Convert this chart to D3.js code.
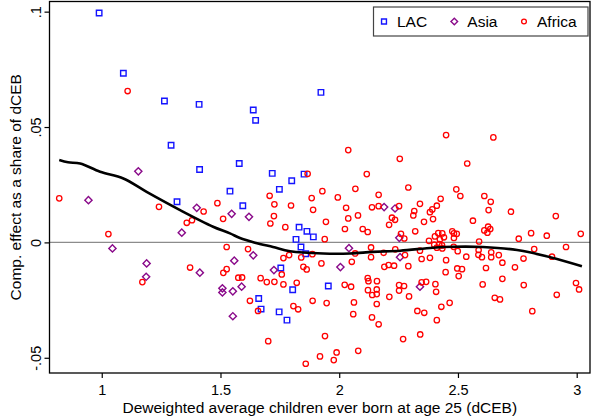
<!DOCTYPE html>
<html>
<head>
<meta charset="utf-8">
<script src="https://cdn.jsdelivr.net/npm/d3@7"></script>
<style>
  body { margin: 0; background: #fff; }
  text { font-family: "Liberation Sans", Arial, Helvetica, sans-serif; fill: #000; }
</style>
</head>
<body>
<svg id="chart" width="592" height="420"></svg>
<script>
// LAC countries: [dCEB, composition effect share]
var lac = [
  [0.989, 0.0994], [1.091, 0.0733], [1.264, 0.0613], [1.410, 0.0598], [1.292, 0.0421],
  [1.638, 0.0574], [1.648, 0.0529], [1.923, 0.0650], [1.412, 0.0316], [1.579, 0.0342],
  [1.317, 0.0176], [1.540, 0.0222], [1.594, 0.0159], [1.718, 0.0299], [1.748, 0.0230],
  [1.800, 0.0267], [1.852, 0.0296], [1.831, 0.0066], [1.864, 0.0048], [1.891, 0.0024],
  [1.818, 0.0013], [1.839, -0.0020], [1.859, -0.0049], [1.754, -0.0111], [1.804, -0.0205],
  [1.954, -0.0189], [1.661, -0.0243], [1.671, -0.0289], [1.747, -0.0301], [1.780, -0.0337]
];

var asia = [
  [0.944, 0.0183], [1.154, 0.0308], [1.045, -0.0026], [1.189, -0.0091], [1.187, -0.0149],
  [1.337, 0.0042], [1.400, 0.0150], [1.413, -0.0131], [1.547, 0.0124], [1.620, 0.0111],
  [1.558, -0.0079], [1.638, -0.0056], [1.508, -0.0199], [1.508, -0.0217], [1.552, -0.0212],
  [1.589, -0.0192], [1.552, -0.0320], [1.725, -0.0120], [2.005, -0.0107], [2.041, -0.0025],
  [2.189, 0.0153], [2.235, 0.0147], [2.253, 0.0020], [2.256, -0.0064], [2.340, -0.0192]
];

var africa = [
  [1.109, 0.0656], [0.821, 0.0191], [1.241, 0.0154], [1.358, 0.0085], [1.380, 0.0096],
  [1.028, 0.0036], [1.487, 0.0170], [1.429, 0.0134], [1.511, 0.0102], [1.526, -0.0020],
  [1.616, -0.0029], [1.372, -0.0109], [1.171, -0.0172],
  [2.038, 0.0400], [2.255, 0.0362], [1.867, 0.0297], [2.116, 0.0296], [2.068, 0.0232],
  [1.929, 0.0222], [2.291, 0.0238], [1.707, 0.0202], [1.884, 0.0192], [2.166, 0.0206],
  [1.994, 0.0195], [1.727, 0.0165], [1.797, 0.0160], [1.890, 0.0141], [2.029, 0.0150],
  [2.138, 0.0152], [2.166, 0.0157], [2.252, 0.0157], [2.340, 0.0167], [1.725, 0.0114],
  [2.038, 0.0104], [2.079, 0.0117], [1.944, 0.0089], [2.222, 0.0107], [2.235, 0.0098],
  [2.316, 0.0136], [2.312, 0.0117], [1.710, 0.0082], [1.773, 0.0066], [2.024, 0.0058],
  [2.099, 0.0058], [2.120, 0.0045], [2.210, 0.0076], [2.320, 0.0048], [2.260, 0.0037],
  [1.939, 0.0014], [2.274, 0.0017], [1.789, -0.0055], [1.765, -0.0068], [1.840, -0.0065],
  [1.887, -0.0051], [2.067, -0.0048], [2.134, -0.0022], [2.134, -0.0064], [2.187, -0.0045],
  [2.236, -0.0030], [2.277, -0.0055], [2.340, -0.0036],
  [2.450, 0.0465], [2.649, 0.0455], [2.539, 0.0342], [2.493, 0.0230], [2.510, 0.0201],
  [2.427, 0.0189], [2.611, 0.0201], [2.638, 0.0176], [2.411, 0.0159], [2.392, 0.0143],
  [2.382, 0.0131], [2.629, 0.0140], [2.723, 0.0133], [2.912, 0.0114], [2.395, 0.0101],
  [2.357, 0.0089], [2.563, 0.0094], [2.627, 0.0068], [2.611, 0.0052], [2.636, 0.0058],
  [2.624, 0.0042], [2.417, 0.0040], [2.434, 0.0039], [2.403, 0.0026], [2.441, 0.0022],
  [2.424, 0.0013], [2.378, 0.0007], [2.476, 0.0048], [2.483, 0.0039], [2.495, 0.0037],
  [2.483, 0.0019], [2.589, 0.0004], [2.756, 0.0016], [2.808, 0.0040], [2.874, 0.0029],
  [3.017, 0.0037], [2.400, -0.0010], [2.421, -0.0007], [2.433, -0.0013], [2.411, -0.0023],
  [2.434, -0.0026], [2.482, -0.0019], [2.499, -0.0038], [2.587, -0.0033], [2.640, -0.0043],
  [2.586, -0.0054], [2.672, -0.0055], [2.601, -0.0064], [2.640, -0.0064], [2.535, -0.0062],
  [2.450, -0.0077], [2.347, -0.0072], [2.382, -0.0067], [2.821, -0.0029], [2.955, -0.0020],
  [2.776, -0.0070], [2.896, -0.0062],
  [1.512, -0.0132], [1.526, -0.0116], [1.575, -0.0153], [1.591, -0.0152], [1.669, -0.0155],
  [1.695, -0.0172], [1.727, -0.0171], [1.758, -0.0139], [1.765, -0.0182], [1.821, -0.0175],
  [1.849, -0.0106], [1.863, -0.0117], [1.925, -0.0091], [2.053, -0.0084], [2.023, -0.0184],
  [2.050, -0.0192], [2.190, -0.0106], [2.208, -0.0098], [2.231, -0.0101], [2.120, -0.0155],
  [2.123, -0.0168], [2.159, -0.0168], [2.121, -0.0207], [2.158, -0.0204], [2.139, -0.0228],
  [2.158, -0.0224], [2.211, -0.0236], [2.252, -0.0185], [2.252, -0.0209], [1.624, -0.0253],
  [1.658, -0.0297], [1.807, -0.0276], [1.827, -0.0290], [1.888, -0.0253], [1.947, -0.0263],
  [2.062, -0.0260], [2.059, -0.0311], [2.158, -0.0267], [2.138, -0.0325], [2.166, -0.0355],
  [1.940, -0.0406], [1.701, -0.0428], [1.989, -0.0477], [2.080, -0.0470], [1.919, -0.0494],
  [1.977, -0.0510], [1.859, -0.0526],
  [2.291, -0.0103], [2.497, -0.0113], [2.517, -0.0116], [2.618, -0.0111], [2.687, -0.0088],
  [2.740, -0.0108], [2.448, -0.0129], [2.503, -0.0146], [2.687, -0.0158], [2.604, -0.0182],
  [2.777, -0.0185], [2.916, -0.0227], [2.997, -0.0176], [3.010, -0.0204], [2.273, -0.0189],
  [2.294, -0.0234], [2.347, -0.0173], [2.366, -0.0171], [2.405, -0.0181], [2.408, -0.0214],
  [2.329, -0.0297], [2.358, -0.0305], [2.430, -0.0279], [2.465, -0.0262], [2.411, -0.0337],
  [2.655, -0.0240], [2.677, -0.0247], [2.813, -0.0298], [2.269, -0.0419], [2.341, -0.0399]
];

// smoothed fit through all countries
var fit = [
  [0.821, 0.0357], [0.858, 0.0347], [0.909, 0.0342], [0.993, 0.0306], [1.091, 0.0277],
  [1.189, 0.0219], [1.330, 0.0140], [1.469, 0.0068], [1.540, 0.0039], [1.582, 0.0019],
  [1.645, -0.0001], [1.721, -0.0020], [1.793, -0.0038], [1.932, -0.0048], [2.045, -0.0048],
  [2.142, -0.0041], [2.256, -0.0036], [2.395, -0.0023], [2.479, -0.0019], [2.605, -0.0020],
  [2.749, -0.0033], [2.888, -0.0064], [3.022, -0.0103]
];

var xTicks = [1, 1.5, 2, 2.5, 3];
var yTicks = [-0.05, 0, 0.05, 0.1];
var legendLabels = ["LAC", "Asia", "Africa"];

var colors = { LAC: "#1414ff", Asia: "#8a0a8a", Africa: "#ff0000" };

var svg = d3.select("#chart");
var plot = { x0: 49.5, x1: 590, y0: 1.5, y1: 373 };

var x = d3.scaleLinear().domain([0.780, 3.056]).range([plot.x0, plot.x1]);
var y = d3.scaleLinear().domain([-0.0566, 0.1044]).range([plot.y1, plot.y0]);

// drop the leading zero like ".05"
function fmt(d) {
  return d === 0 ? "0" : String(d).replace(/^(-?)0\./, "$1.");
}

// zero reference line
svg.append("line")
  .attr("x1", plot.x0).attr("x2", plot.x1)
  .attr("y1", y(0)).attr("y2", y(0))
  .attr("stroke", "#8c8c8c")
  .attr("stroke-width", 1.3);

// axes
var xAxis = svg.append("g")
  .attr("transform", "translate(0," + plot.y1 + ")")
  .call(d3.axisBottom(x).tickValues(xTicks).tickFormat(fmt).tickSize(5).tickPadding(7));

var yAxis = svg.append("g")
  .attr("transform", "translate(" + plot.x0 + ",0)")
  .call(d3.axisLeft(y).tickValues(yTicks).tickFormat(fmt).tickSize(5));

[xAxis, yAxis].forEach(function(g) {
  g.select(".domain").remove();
  g.selectAll(".tick line").attr("stroke", "#000").attr("stroke-width", 1.2);
  g.selectAll(".tick text")
    .attr("fill", "#000")
    .style("font-size", "14.5px")
    .style("font-family", '"Liberation Sans", Arial, Helvetica, sans-serif');
});

yAxis.selectAll(".tick text")
  .attr("transform", "rotate(-90)")
  .attr("x", 0)
  .attr("y", -9)
  .attr("dy", 0)
  .style("text-anchor", "middle");

// markers
var squarePath = d3.symbol(d3.symbolSquare, 30)();
var diamondPath = d3.symbol(d3.symbolSquare, 26)();

svg.append("g").selectAll("path")
  .data(lac).enter().append("path")
  .attr("d", squarePath)
  .attr("transform", function(d) { return "translate(" + x(d[0]) + "," + y(d[1]) + ")"; })
  .attr("fill", "none")
  .attr("stroke", colors.LAC)
  .attr("stroke-width", 1.4);

svg.append("g").selectAll("path")
  .data(asia).enter().append("path")
  .attr("d", diamondPath)
  .attr("transform", function(d) { return "translate(" + x(d[0]) + "," + y(d[1]) + ") rotate(45)"; })
  .attr("fill", "none")
  .attr("stroke", colors.Asia)
  .attr("stroke-width", 1.4);

svg.append("g").selectAll("circle")
  .data(africa).enter().append("circle")
  .attr("cx", function(d) { return x(d[0]); })
  .attr("cy", function(d) { return y(d[1]); })
  .attr("r", 2.7)
  .attr("fill", "none")
  .attr("stroke", colors.Africa)
  .attr("stroke-width", 1.3);

// fitted line
var line = d3.line()
  .x(function(d) { return x(d[0]); })
  .y(function(d) { return y(d[1]); })
  .curve(d3.curveCatmullRom.alpha(0.5));

svg.append("path")
  .datum(fit)
  .attr("d", line)
  .attr("fill", "none")
  .attr("stroke", "#000")
  .attr("stroke-width", 2.6);

// plot frame
svg.append("rect")
  .attr("x", plot.x0).attr("y", plot.y0)
  .attr("width", plot.x1 - plot.x0).attr("height", plot.y1 - plot.y0)
  .attr("fill", "none")
  .attr("stroke", "#000")
  .attr("stroke-width", 1.3);

// axis titles
svg.append("text")
  .attr("x", (plot.x0 + plot.x1) / 2)
  .attr("y", 412.5)
  .attr("text-anchor", "middle")
  .style("font-size", "15.5px")
  .text("Deweighted average children ever born at age 25 (dCEB)");

svg.append("text")
  .attr("transform", "translate(20.5," + ((plot.y0 + plot.y1) / 2) + ") rotate(-90)")
  .attr("text-anchor", "middle")
  .style("font-size", "15.5px")
  .text("Comp. effect as a share of dCEB");

// legend
var legend = svg.append("g");
legend.append("rect")
  .attr("x", 373.5).attr("y", 7)
  .attr("width", 214.5).attr("height", 29)
  .attr("fill", "#fff")
  .attr("stroke", "#444")
  .attr("stroke-width", 1.2);

var legendX = [384, 454.3, 524];
legendLabels.forEach(function(name, i) {
  var cx = legendX[i], cy = 21.5;
  if (name === "LAC") {
    legend.append("path").attr("d", d3.symbol(d3.symbolSquare, 24)())
      .attr("transform", "translate(" + cx + "," + cy + ")")
      .attr("fill", "none").attr("stroke", colors.LAC).attr("stroke-width", 1.4);
  } else if (name === "Asia") {
    legend.append("path").attr("d", d3.symbol(d3.symbolSquare, 22)())
      .attr("transform", "translate(" + cx + "," + cy + ") rotate(45)")
      .attr("fill", "none").attr("stroke", colors.Asia).attr("stroke-width", 1.4);
  } else {
    legend.append("circle").attr("cx", cx).attr("cy", cy).attr("r", 2.4)
      .attr("fill", "none").attr("stroke", colors.Africa).attr("stroke-width", 1.3);
  }
  legend.append("text")
    .attr("x", cx + 13)
    .attr("y", 27)
    .style("font-size", "15.5px")
    .text(name);
});
</script>
</body>
</html>
